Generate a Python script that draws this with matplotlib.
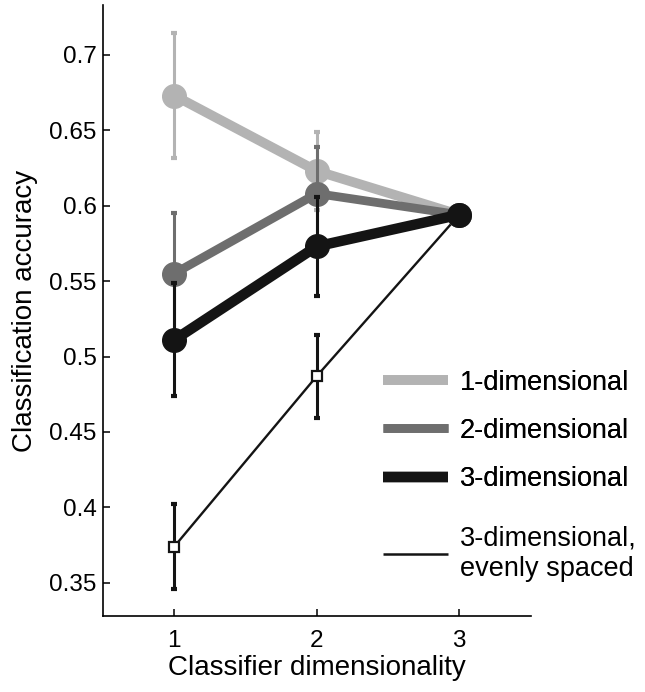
import matplotlib
matplotlib.use("Agg")
import matplotlib.pyplot as plt
from matplotlib.lines import Line2D

plt.rcParams['font.family'] = ['Liberation Sans', 'DejaVu Sans']

x = [1, 2, 3]
acc_1d = [0.673, 0.623, 0.594]
err_1d = [0.0415, 0.026, 0.0]
acc_2d = [0.555, 0.608, 0.594]
err_2d = [0.040, 0.031, 0.0]
acc_3d = [0.511, 0.573, 0.594]
err_3d = [0.0375, 0.033, 0.0]
acc_even = [0.374, 0.487, 0.594]
err_even = [0.028, 0.0275, 0.0]
labels = ['1-dimensional', '2-dimensional', '3-dimensional', '3-dimensional,\nevenly spaced']
xticks = [1, 2, 3]
yticks = [0.35, 0.4, 0.45, 0.5, 0.55, 0.6, 0.65, 0.7]
ytick_labels = ['0.35', '0.4', '0.45', '0.5', '0.55', '0.6', '0.65', '0.7']

c1, c2, c3 = '#b3b3b3', '#6e6e6e', '#141414'

fig = plt.figure(figsize=(6.45, 6.92), dpi=100)
ax = fig.add_axes([103/645, 76/692, 427.5/645, 611/692])

# evenly spaced (thin line, square markers)
ax.errorbar(x[:2], acc_even[:2], yerr=err_even[:2], fmt='none', ecolor=c3,
            elinewidth=2.2, capsize=2.5, capthick=3, zorder=1)
ax.plot(x, acc_even, color=c3, lw=1.7, zorder=1.5)
ax.plot(x[:2], acc_even[:2], ls='none', marker='s', ms=7.5, mfc='white',
        mec=c3, mew=1.6, zorder=2)

for acc, err, col, lw, z in [(acc_1d, err_1d, c1, 7.0, 3),
                             (acc_2d, err_2d, c2, 6.3, 4),
                             (acc_3d, err_3d, c3, 7.5, 5)]:
    ax.plot(x, acc, color=col, lw=lw, marker='o', ms=17, mfc=col, mec=col,
            solid_capstyle='butt', zorder=z)
    ax.errorbar(x[:2], acc[:2], yerr=err[:2], fmt='none', ecolor=col,
                elinewidth=2.2, capsize=2.5, capthick=3, zorder=z + 0.5)

ax.set_xlim(0.5, 3.5)
ax.set_ylim(0.328, 0.733)
ax.set_xticks(xticks)
ax.set_yticks(yticks)
ax.set_yticklabels(ytick_labels)
ax.tick_params(direction='in', length=5, width=1.1, labelsize=17.5)
ax.tick_params(axis='y', pad=4.5)
ax.tick_params(axis='x', pad=10)
for s in ['top', 'right']:
    ax.spines[s].set_visible(False)
for s in ['left', 'bottom']:
    ax.spines[s].set_linewidth(1.2)

ax.set_xlabel('Classifier dimensionality', fontsize=20, labelpad=2)
ax.set_ylabel('Classification accuracy', fontsize=20, labelpad=8)

handles = [Line2D([], [], color=c1, lw=7, solid_capstyle='butt'),
           Line2D([], [], color=c2, lw=6.3, solid_capstyle='butt'),
           Line2D([], [], color=c3, lw=7.5, solid_capstyle='butt'),
           Line2D([], [], color=c3, lw=1.8, solid_capstyle='butt')]
common = dict(loc='upper left', frameon=False, fontsize=19.5, handlelength=2.4,
              handletextpad=0.44, borderpad=0, borderaxespad=0)
leg1 = fig.legend(handles[:3], labels[:3], bbox_to_anchor=(383/645, 1 - 369.5/692),
                  labelspacing=0.83, **common)
leg2 = fig.legend(handles[3:], labels[3:], bbox_to_anchor=(383/645, 1 - 525.5/692),
                  **common)
fig.add_artist(leg1)

fig.savefig('out.png', dpi=100)
